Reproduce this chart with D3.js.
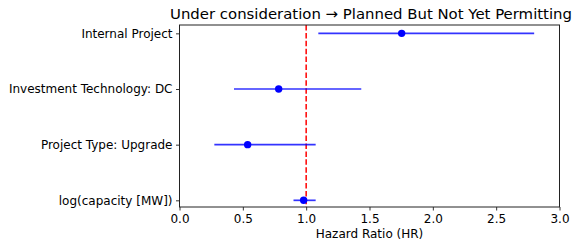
<!DOCTYPE html>
<html>
<head>
<meta charset="utf-8">
<script src="https://cdn.jsdelivr.net/npm/d3@7"></script>
<style>
  body { margin: 0; background: #fff; }
  svg text { font-family: "DejaVu Sans", sans-serif; fill: #000; }
</style>
</head>
<body>
<svg id="chart" width="575" height="243"></svg>
<script>
// variables, top row first
var labels = ['Internal Project', 'Investment Technology: DC', 'Project Type: Upgrade', 'log(capacity [MW])']
var hr = [1.754, 0.783, 0.538, 0.98]
var ciLow = [1.096, 0.43, 0.275, 0.90]
var ciHigh = [2.80, 1.435, 1.075, 1.075]
var xTicks = [0, 0.5, 1, 1.5, 2, 2.5, 3]

var svg = d3.select('#chart')
var margin = {left: 179.5, right: 559.5, top: 25, bottom: 207}

var xscale = d3.scaleLinear()
    .domain([0, 3])
    .range([margin.left, margin.right])
// index 3 is the top row, like matplotlib's y positions
var yscale = d3.scaleLinear()
    .domain([-0.12, 3.15])
    .range([margin.bottom, margin.top])

var rows = labels.map(function (d, i) {
    return {label: d, pos: labels.length - 1 - i, hr: hr[i], lo: ciLow[i], hi: ciHigh[i]}
})

svg.append('text')
    .attr('x', 371)
    .attr('y', 19)
    .attr('text-anchor', 'middle')
    .style('font-size', '14.9px')
    .text('Under consideration \u2192 Planned But Not Yet Permitting')

// reference line
svg.append('line')
    .attr('x1', xscale(1)).attr('x2', xscale(1))
    .attr('y1', margin.top).attr('y2', margin.bottom)
    .attr('stroke', '#ff0000')
    .attr('stroke-width', 1.5)
    .attr('stroke-dasharray', '5.5,2.4')

var g = svg.append('g')
g.selectAll('line.ci').data(rows).enter()
    .append('line')
    .attr('class', 'ci')
    .attr('x1', d => xscale(d.lo))
    .attr('x2', d => xscale(d.hi))
    .attr('y1', d => yscale(d.pos))
    .attr('y2', d => yscale(d.pos))
    .attr('stroke', '#0000ff')
    .attr('stroke-opacity', 0.8)
    .attr('stroke-width', 1.7)
g.selectAll('circle').data(rows).enter()
    .append('circle')
    .attr('cx', d => xscale(d.hr))
    .attr('cy', d => yscale(d.pos))
    .attr('r', 3.7)
    .attr('fill', '#0000ff')

// axes
var xAxis = svg.append('g')
    .attr('transform', 'translate(0,' + margin.bottom + ')')
    .call(d3.axisBottom(xscale).tickValues(xTicks).tickFormat(d3.format('.1f')).tickSize(3.5).tickPadding(3.5))
var yAxis = svg.append('g')
    .attr('transform', 'translate(' + margin.left + ',0)')
    .call(d3.axisLeft(yscale).tickValues(rows.map(d => d.pos))
        .tickFormat(function (p) { return labels[labels.length - 1 - p] })
        .tickSize(3.5).tickPadding(3.5))
svg.selectAll('.domain').remove()
svg.selectAll('.tick line').attr('stroke', '#000').attr('stroke-width', 0.8)
svg.selectAll('.tick text').style('font-size', '12px').style('font-family', '"DejaVu Sans", sans-serif')

// frame
svg.append('rect')
    .attr('x', margin.left).attr('y', margin.top)
    .attr('width', margin.right - margin.left)
    .attr('height', margin.bottom - margin.top)
    .attr('fill', 'none')
    .attr('stroke', '#222')
    .attr('stroke-width', 1)

svg.append('text')
    .attr('x', (margin.left + margin.right) / 2)
    .attr('y', 238)
    .attr('text-anchor', 'middle')
    .style('font-size', '12px')
    .text('Hazard Ratio (HR)')
</script>
</body>
</html>
